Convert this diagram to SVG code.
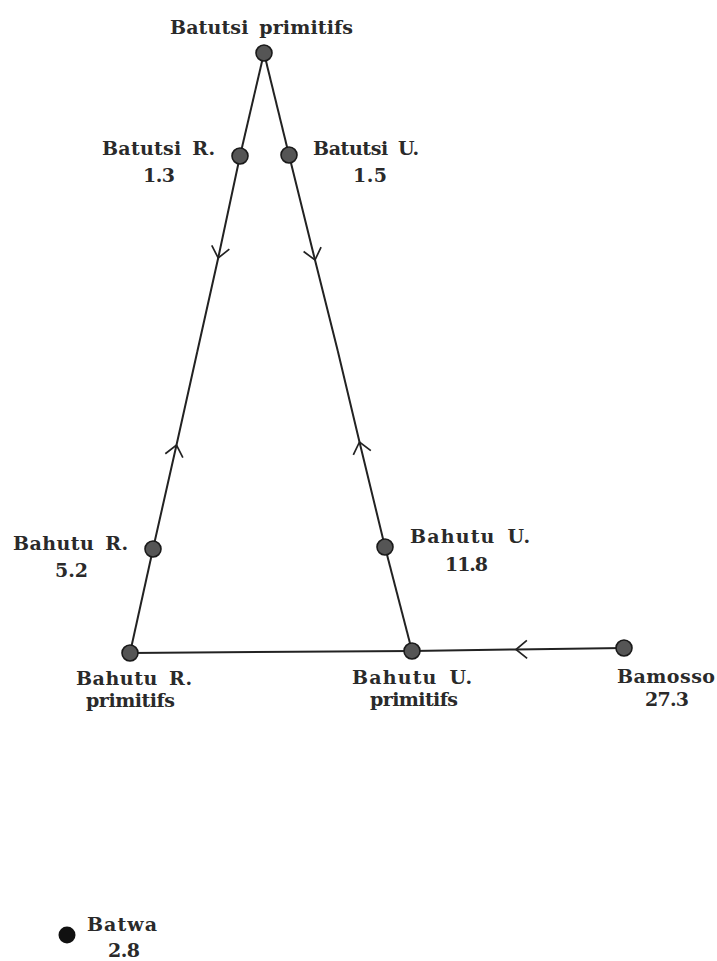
<svg xmlns="http://www.w3.org/2000/svg" width="717" height="961" viewBox="0 0 717 961">
  <style>
    .lbl { font-family: "DejaVu Serif", "Liberation Serif", serif; font-weight: bold; font-size: 19px; fill: #2a2a2a; }
    .edge { fill: none; stroke: #222; stroke-width: 2; }
    .node { fill: #555; stroke: #1a1a1a; stroke-width: 1.6; }
    .solid { fill: #111; }
  </style>
  <defs>
    <marker id="chev" markerUnits="userSpaceOnUse" markerWidth="30" markerHeight="30" viewBox="-15 -15 30 30" refX="0" refY="0" orient="auto" overflow="visible">
      <path d="M-11,-9 L0,0 L-11,9" fill="none" stroke="#222" stroke-width="1.7"/>
    </marker>
  </defs>
  <rect width="717" height="961" fill="#fff"/>

  <g id="connectors">
    <path class="edge" d="M264,53 L240,156"/>
    <path class="edge" d="M264,53 L289,155"/>
    <path class="edge" d="M240,156 L218.2,258 L197.2,352" marker-mid="url(#chev)"/>
    <path class="edge" d="M153,549 L176.5,445 L197.2,352" marker-mid="url(#chev)"/>
    <path class="edge" d="M289,155 L315,260 L337.8,351" marker-mid="url(#chev)"/>
    <path class="edge" d="M385,547 L359.5,442 L337.8,351" marker-mid="url(#chev)"/>
    <path class="edge" d="M153,549 L130,653"/>
    <path class="edge" d="M385,547 L412,651"/>
    <path class="edge" d="M130,653 L412,651"/>
    <path class="edge" d="M624,648 L516,649.5 L412,651" marker-mid="url(#chev)"/>
  </g>

  <g id="batutsi-primitifs">
    <circle class="node" cx="264" cy="53" r="8"/>
    <text class="lbl" x="170" y="34" textLength="183" word-spacing="4">Batutsi primitifs</text>
  </g>
  <g id="batutsi-r">
    <circle class="node" cx="240" cy="156" r="8"/>
    <text class="lbl" x="102" y="155" textLength="113" word-spacing="4">Batutsi R.</text>
    <text class="lbl" x="143" y="182" textLength="32">1.3</text>
  </g>
  <g id="batutsi-u">
    <circle class="node" cx="289" cy="155" r="8"/>
    <text class="lbl" x="313" y="155" textLength="106" word-spacing="4">Batutsi U.</text>
    <text class="lbl" x="353" y="182" textLength="34">1.5</text>
  </g>
  <g id="bahutu-r">
    <circle class="node" cx="153" cy="549" r="8"/>
    <text class="lbl" x="13" y="550" textLength="115" word-spacing="4">Bahutu R.</text>
    <text class="lbl" x="55" y="577" textLength="33">5.2</text>
  </g>
  <g id="bahutu-u">
    <circle class="node" cx="385" cy="547" r="8"/>
    <text class="lbl" x="410" y="543" textLength="120" word-spacing="4">Bahutu U.</text>
    <text class="lbl" x="445" y="571" textLength="43">11.8</text>
  </g>
  <g id="bahutu-r-primitifs">
    <circle class="node" cx="130" cy="653" r="8"/>
    <text class="lbl" x="76" y="685" textLength="116" word-spacing="4">Bahutu R.</text>
    <text class="lbl" x="86" y="707" textLength="89">primitifs</text>
  </g>
  <g id="bahutu-u-primitifs">
    <circle class="node" cx="412" cy="651" r="8"/>
    <text class="lbl" x="352" y="684" textLength="120" word-spacing="4">Bahutu U.</text>
    <text class="lbl" x="370" y="706" textLength="88">primitifs</text>
  </g>
  <g id="bamosso">
    <circle class="node" cx="624" cy="648" r="8"/>
    <text class="lbl" x="617" y="683" textLength="98">Bamosso</text>
    <text class="lbl" x="645" y="706" textLength="44">27.3</text>
  </g>
  <g id="batwa">
    <circle class="solid" cx="67" cy="935" r="8.5"/>
    <text class="lbl" x="87" y="931" textLength="70">Batwa</text>
    <text class="lbl" x="108" y="957" textLength="32">2.8</text>
  </g>
</svg>
